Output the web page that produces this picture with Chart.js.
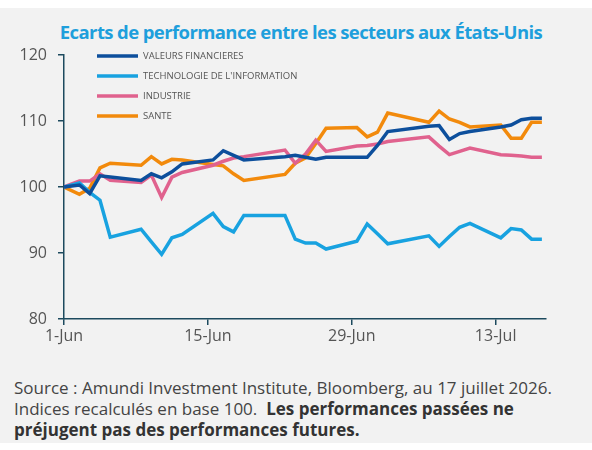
<!DOCTYPE html>
<html lang="fr">
<head>
<meta charset="utf-8">
<script src="https://cdn.jsdelivr.net/npm/chart.js@4.4.1/dist/chart.umd.min.js"></script>
<style>
  body { margin: 0; background: #fff; width: 592px; height: 450px; overflow: hidden; }
  #cadre { position: absolute; left: 0; top: 8px; width: 592px; height: 435px; background: #f2f2f2; }
  #titre { position: absolute; left: 0; top: 19px; width: 602px; text-align: center; font-family: "Open Sans", sans-serif; font-weight: 700; font-size: 18.5px; letter-spacing: -0.6px; color: #1e9fdc; }
  #grafico { position: absolute; left: 0; top: 0; }
  #source { position: absolute; left: 14px; top: 377px; width: 575px; font-family: "Open Sans", sans-serif; font-size: 17px; line-height: 21px; color: #444; }
  #source b { color: #333; }
</style>
</head>
<body>
<div id="cadre"></div>
<div id="titre">Ecarts de performance entre les secteurs aux États-Unis</div>
<canvas id="grafico" width="592" height="360"></canvas>
<div id="source">Source : Amundi Investment Institute, Bloomberg, au 17 juillet 2026.<br>Indices recalculés en base 100.&nbsp; <b>Les performances passées ne<br>préjugent pas des performances futures.</b></div>
<script>
// jours depuis le 1er juin
const jours = [0, 1.5, 2.5, 3.5, 4.5, 7.5, 8.5, 9.5, 10.5, 11.5, 14.5, 15.5, 16.5, 17.5, 21.5, 22.5, 23.5, 24.5, 25.5, 28.5, 29.5, 30.5, 31.5, 35.5, 36.5, 37.5, 38.5, 39.5, 42.5, 43.5, 44.5, 45.5, 46.5];

const financieres = [100, 100.3, 99, 101.7, 101.5, 101, 102, 101.4, 102.3, 103.5, 104.1, 105.5, 104.8, 104.1, 104.6, 104.8, 104.5, 104.2, 104.5, 104.5, 104.5, 106.3, 108.4, 109.2, 109.3, 107.2, 108.1, 108.4, 109.1, 109.4, 110.2, 110.4, 110.4];
const technologie = [100, 100.6, 99.2, 98, 92.4, 93.6, 91.7, 89.8, 92.3, 92.8, 96, 94, 93.2, 95.7, 95.7, 92.1, 91.5, 91.5, 90.6, 91.8, 94.4, 92.9, 91.4, 92.6, 91, 92.5, 93.9, 94.5, 92.3, 93.7, 93.5, 92.1, 92.1];
const industrie = [100, 100.9, 100.9, 102, 101, 100.7, 101.8, 98.4, 101.5, 102.2, 103.3, 103.9, 104.4, 104.6, 105.6, 103.6, 105, 107.1, 105.4, 106.2, 106.3, 106.5, 106.9, 107.6, 106.2, 104.9, 105.4, 105.9, 104.9, 104.8, 104.7, 104.5, 104.5];
const sante = [100, 98.9, 99.8, 102.9, 103.6, 103.3, 104.6, 103.5, 104.2, 104.1, 103.4, 103.2, 102, 101, 101.9, 103.6, 104.4, 106.6, 108.9, 109, 107.6, 108.3, 111.2, 109.8, 111.5, 110.3, 109.8, 109.1, 109.4, 107.4, 107.4, 109.8, 109.8];

const series = ["VALEURS FINANCIERES", "TECHNOLOGIE DE L'INFORMATION", "INDUSTRIE", "SANTE"];
const couleurs = ["#0d4f9c", "#18a2e0", "#e0628e", "#f28a0c"];
const ticksX = [0, 14, 28, 42];
const ticksY = [80, 90, 100, 110, 120];
const mois = ["Jan", "Feb", "Mar", "Apr", "May", "Jun", "Jul", "Aug", "Sep", "Oct", "Nov", "Dec"];

const axe = "#1d4a5e";
const police = "'Open Sans', sans-serif";

function pts(valeurs) {
    return valeurs.map((v, i) => ({ x: jours[i], y: v }));
}

function etiquetteJour(v) {
    const d = new Date(2026, 5, 1 + v);
    return d.getDate() + "-" + mois[d.getMonth()];
}

// legende dessinee dans la zone du graphique
const legende = {
    id: "legende",
    afterDraw(chart) {
        const ctx = chart.ctx;
        const a = chart.chartArea;
        ctx.save();
        chart.data.datasets.forEach((ds, i) => {
            const y = a.top + 1 + i * 20;
            ctx.strokeStyle = ds.borderColor;
            ctx.lineWidth = 3.5;
            ctx.beginPath();
            ctx.moveTo(a.left + 33, y);
            ctx.lineTo(a.left + 74, y);
            ctx.stroke();
            ctx.fillStyle = "#555";
            ctx.font = "9.5px " + police;
            ctx.textBaseline = "middle";
            ctx.fillText(ds.label, a.left + 79, y + 0.5);
        });
        ctx.restore();
    }
};

const datos = [financieres, technologie, industrie, sante];

new Chart(document.getElementById("grafico"), {
    type: "line",
    data: {
        datasets: datos.map((d, i) => ({
            label: series[i],
            data: pts(d),
            borderColor: couleurs[i],
            backgroundColor: couleurs[i],
            borderWidth: 3.5,
            pointRadius: 0,
            tension: 0,
            borderJoinStyle: "miter"
        }))
    },
    options: {
        responsive: false,
        animation: false,
        devicePixelRatio: 1,
        layout: { padding: { top: 55, right: 46, bottom: 11, left: 0 } },
        plugins: { legend: { display: false }, tooltip: { enabled: false } },
        scales: {
            x: {
                type: "linear",
                min: 0,
                max: 46.9,
                afterBuildTicks: s => { s.ticks = ticksX.map(v => ({ value: v })); },
                afterFit: s => { s.height = 30; },
                ticks: {
                    callback: v => etiquetteJour(v),
                    color: "#555",
                    font: { family: police, size: 16 },
                    padding: 2,
                    maxRotation: 0
                },
                grid: { drawOnChartArea: false, drawTicks: true, tickLength: 6, color: axe, lineWidth: 1.5 },
                border: { display: true, color: axe, width: 1.5 }
            },
            y: {
                min: 80,
                max: 120,
                afterBuildTicks: s => { s.ticks = ticksY.map(v => ({ value: v })); },
                afterFit: s => { s.width = 64; },
                ticks: {
                    color: "#555",
                    font: { family: police, size: 16 },
                    padding: 11
                },
                grid: { drawOnChartArea: false, drawTicks: true, tickLength: 6, color: axe, lineWidth: 1.5 },
                border: { display: true, color: axe, width: 1.5 }
            }
        }
    },
    plugins: [legende]
});
</script>
</body>
</html>
